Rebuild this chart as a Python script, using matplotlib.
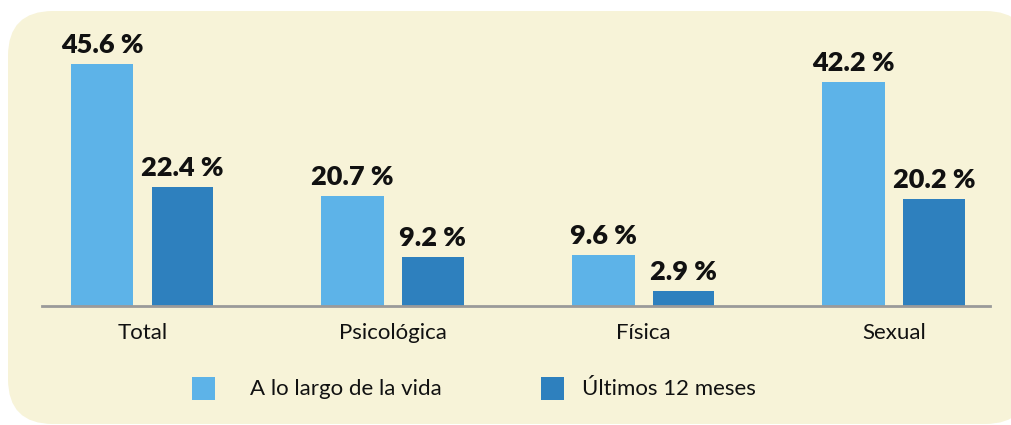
import matplotlib
matplotlib.use("Agg")
import matplotlib.pyplot as plt
from matplotlib.patches import FancyBboxPatch, Rectangle
import numpy as np

categories = ["Total", "Psicológica", "Física", "Sexual"]
series_names = ["A lo largo de la vida", "Últimos 12 meses"]
vida = [45.6, 20.7, 9.6, 42.2]
ultimos = [22.4, 9.2, 2.9, 20.2]

W, H = 1012, 425
fig = plt.figure(figsize=(W / 100, H / 100), dpi=100)
fig.patch.set_facecolor("white")
plt.rcParams["font.family"] = ["Lato", "DejaVu Sans"]

# background box (pixel coordinates)
bg = fig.add_axes([0, 0, 1, 1])
bg.set_xlim(0, W)
bg.set_ylim(H, 0)
bg.axis("off")
box = FancyBboxPatch((8, 11), 1010 - 8 + 20, 413, boxstyle="round,pad=0,rounding_size=45",
                     facecolor="#f7f3d8", edgecolor="none")
bg.add_patch(box)

c_light = "#5db3e8"
c_dark = "#2e80be"

left_px, right_px = 42, 990
base_px = 306
ax = fig.add_axes([left_px / W, 1 - base_px / H, (right_px - left_px) / W, 265.5 / H])
ax.set_facecolor("none")
x = np.arange(len(categories))
b1 = ax.bar(x - 0.16, vida, width=0.25, color=c_light, label=series_names[0])
b2 = ax.bar(x + 0.16, ultimos, width=0.245, color=c_dark, label=series_names[1])
ax.set_xlim(-0.4, 3.384)
ax.set_ylim(0, 50)
for bars, vals in ((b1, vida), (b2, ultimos)):
    for r, v in zip(bars, vals):
        ax.annotate(f"{v:.1f} %", (r.get_x() + r.get_width() / 2, v), xytext=(0, 5),
                    textcoords="offset points", ha="center", va="bottom",
                    fontsize=19.5, fontweight="heavy", color="#111111")
for s in ["top", "right", "left"]:
    ax.spines[s].set_visible(False)
ax.spines["bottom"].set_color("#9a9a9a")
ax.spines["bottom"].set_linewidth(2)
ax.set_yticks([])
ax.set_xticks(x)
ax.set_xticklabels(categories, fontsize=16, color="#111111")
ax.tick_params(axis="x", length=0, pad=12)

# legend
for (sx, tx), name, col in zip(((192, 250), (541, 582)), series_names, (c_light, c_dark)):
    bg.add_patch(Rectangle((sx, 377), 23, 23, facecolor=col, edgecolor="none"))
    bg.text(tx, 389, name, fontsize=16, va="center", ha="left", color="#111111")

fig.savefig("out.png", dpi=100)
